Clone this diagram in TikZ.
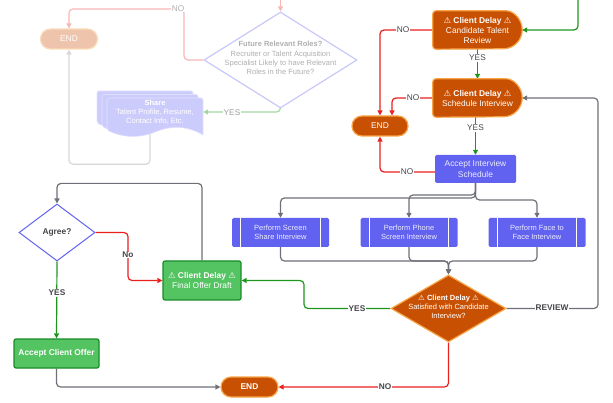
\documentclass[tikz,border=0pt]{standalone}
\usepackage{fontspec}
\setmainfont{Liberation Sans}
\newfontfamily\symfont{DejaVu Sans}
\newcommand{\wsg}{{\symfont ⚠}}
\usetikzlibrary{arrows.meta,shapes.geometric,backgrounds}
\definecolor{ofill}{RGB}{200,80,2}
\definecolor{oline}{RGB}{247,165,70}
\definecolor{bfill}{RGB}{98,98,240}
\definecolor{btext}{RGB}{236,236,255}
\definecolor{gfill}{RGB}{84,196,98}
\definecolor{gline}{RGB}{25,140,40}
\definecolor{redl}{RGB}{235,30,30}
\definecolor{grnl}{RGB}{30,150,30}
\definecolor{gryl}{RGB}{110,112,120}
\definecolor{lbl}{RGB}{70,70,75}
\definecolor{fpink}{RGB}{248,182,182}
\definecolor{flav}{RGB}{200,200,250}
\definecolor{flavfill}{RGB}{204,204,252}
\definecolor{fgreen}{RGB}{165,215,165}
\definecolor{fgray}{RGB}{215,215,215}
\definecolor{ftext}{RGB}{175,175,175}
\definecolor{fendfill}{RGB}{238,196,172}
\definecolor{fendline}{RGB}{250,218,185}
\pgfdeclarelayer{edges}
\pgfdeclarelayer{shapes}
\pgfsetlayers{edges,shapes,main}
\begin{document}
\begin{tikzpicture}[x=1pt,y=-1pt,
  font=\fontsize{8.4}{10}\selectfont,
  arr/.style={-{Triangle[length=5pt,width=5pt]}},
  conn/.style={line width=1.2pt, rounded corners=4pt, arr},
  lab/.style={fill=white, inner sep=0.6pt, text=lbl, font=\fontsize{8.3}{9}\selectfont},
  blab/.style={lab, font=\fontsize{8.3}{9}\selectfont\bfseries},
  flab/.style={lab, text=ftext},
  delaytxt/.style={minimum width=89pt, minimum height=38pt, inner sep=0pt, align=center, text=white},
  oshape/.style={fill=ofill, draw=oline, line width=1.2pt},
  endn/.style={fill=ofill, draw=oline, line width=1.2pt, rounded corners=10pt, minimum width=56pt, minimum height=20pt, inner sep=0pt, text=white},
  proc/.style={fill=bfill, rounded corners=1.5pt, minimum width=97pt, minimum height=29pt, inner sep=0pt, align=center, text=btext, font=\fontsize{7.5}{9}\selectfont},
  gbox/.style={fill=gfill, draw=gline, line width=1.2pt, rounded corners=2pt, inner sep=0pt, align=center, text=white},
  dia/.style={diamond, inner sep=0pt, line width=1.2pt}
]
\useasboundingbox (0,0) rectangle (613,403);

% ---------- faded part ----------
\node[endn, fill=fendfill, draw=fendline, minimum width=57pt] (fend) at (69,39) {END};
\node[dia, draw=flav, fill=white, minimum width=153pt, minimum height=96pt] (fdia) at (280.5,60) {};
\node[align=center, text=ftext, font=\fontsize{7.5}{9.3}\selectfont] (fdiat) at ([yshift=2pt]fdia.center) {\textbf{Future Relevant Roles?}\\Recruiter or Talent Acquisition\\Specialist Likely to have Relevant\\Roles in the Future?};
\node[minimum width=96pt, minimum height=28pt, inner sep=0pt, align=center, text=white, font=\fontsize{7.5}{9}\selectfont] (share) at (155,112) {\textbf{Share}\\Talent Profile, Resume,\\Contact Info, Etc.};
\begin{pgfonlayer}{shapes}
\foreach \dx/\dy in {-10/-7,-5/-3.5,0/0}{
  \draw[fill=flavfill, draw=white!40!flavfill, line width=0.6pt, shift={(\dx,\dy)}]
    (203,135) [rounded corners=2pt] -- (203,98) -- (107,98) -- (107,130) [sharp corners]
    .. controls (121,137) and (138,139) .. (155,132)
    .. controls (172,125) and (188,126) .. (203,135) -- cycle;
}
\end{pgfonlayer}
\coordinate (ftop) at (280.5,0);

% ---------- main nodes ----------
\node[delaytxt] (c1) at (477.5,30) {\textbf{\wsg\ Client Delay \wsg}\\Candidate Talent\\Review};
\node[delaytxt] (c2) at (477.5,98) {\textbf{\wsg\ Client Delay \wsg}\\Schedule Interview};
\begin{pgfonlayer}{shapes}
\foreach \n in {c1,c2}{
  \draw[oshape] ([xshift=-19pt]\n.north east) arc[start angle=90,end angle=-90,radius=19pt]
    [rounded corners=3pt] -- (\n.south west) -- (\n.north west) -- cycle;
}
\end{pgfonlayer}
\node[endn] (end1) at (380,126) {END};
\node[fill=bfill, rounded corners=1.5pt, minimum width=81pt, minimum height=28pt, inner sep=0pt, align=center, text=btext] (acc) at (475.5,169) {Accept Interview\\Schedule};
\node[proc] (p1) at (280.5,232.5) {Perform Screen\\Share Interview};
\node[proc] (p2) at (409,232.5) {Perform Phone\\Screen Interview};
\node[proc] (p3) at (537,232.5) {Perform Face to\\Face Interview};
\foreach \n in {p1,p2,p3}{
  \draw[white, line width=0.8pt] ([xshift=9pt]\n.north west) -- ([xshift=9pt]\n.south west);
  \draw[white, line width=0.8pt] ([xshift=-9pt]\n.north east) -- ([xshift=-9pt]\n.south east);
}
\node[dia, fill=ofill, draw=oline, minimum width=115pt, minimum height=67pt] (sat) at (448.5,308.5) {};
\node[align=center, text=white, font=\fontsize{7.5}{9}\selectfont] (satt) at ([yshift=1.5pt]sat.center) {\textbf{\wsg\ Client Delay \wsg}\\Satisfied with Candidate\\Interview?};
\node[gbox, minimum width=78pt, minimum height=39pt] (fin) at (202,280.5) {\textbf{\wsg\ Client Delay \wsg}\\Final Offer Draft};
\node[dia, draw=bfill, fill=white, line width=1pt, minimum width=76pt, minimum height=57pt] (agree) at (57,232.5) {};
\node[text=lbl, font=\fontsize{8.4}{10}\selectfont\bfseries] (agreet) at (agree.center) {Agree?};
\node[gbox, minimum width=85pt, minimum height=29pt, font=\fontsize{8.4}{10}\selectfont\bfseries] (aco) at (56.5,353.5) {Accept Client Offer};
\node[endn, font=\fontsize{8.4}{10}\selectfont\bfseries, minimum width=57pt] (end2) at (249.5,387) {END};
\coordinate (gtop) at (578,0);
\coordinate (mrg) at (448.5,261);

% ---------- connectors ----------
\begin{pgfonlayer}{edges}
\draw[conn, fpink] (ftop) -- (fdia.north);
\draw[conn, fpink] (fdia.west) -- (184,60) -- (184,9) -| (fend.north);
\draw[conn, fgreen] (fdia.south) |- (share.east);
\draw[conn, fgray] ([xshift=-5pt]share.south) -- ++(0,38) -| (fend.south);

\draw[conn, grnl] (gtop) |- (c1.east);
\draw[conn, redl] (c1.west) -| (end1.north);
\draw[conn, redl] (c2.west) -| ([xshift=12pt]end1.north);
\draw[conn, grnl] (c1.south) -- (c2.north);
\draw[conn, grnl] (acc.north |- c2.south) -- (acc.north);
\draw[conn, redl] ([yshift=-3pt]acc.west) -| (end1.south);

\draw[conn, gryl] (acc.south) -- (475.5,195) -| (p2.north);
\draw[conn, gryl] (acc.south) -- (475.5,198) -| (p1.north);
\draw[conn, gryl] (acc.south) -- (475.5,200) -| (p3.north);
\draw[conn, gryl] (p1.south) |- (mrg) -- (sat.north);
\draw[conn, gryl] (p2.south) |- (mrg) -- (sat.north);
\draw[conn, gryl] (p3.south) |- (mrg) -- (sat.north);

\draw[conn, grnl] (sat.west) -- (304,308.5) |- (fin.east);
\draw[conn, gryl] (sat.east) -- (598,308.5) |- (c2.east);
\draw[conn, redl] (sat.south) |- (end2.east);
\draw[conn, gryl] (fin.north) -- ++(0,-77) -| (agree.north);
\draw[conn, redl] (agree.east) -- (128,232.5) |- (fin.west);
\draw[conn, grnl] (agree.south) -- (aco.north);
\draw[conn, gryl] (aco.south) |- (end2.west);
\end{pgfonlayer}

% ---------- labels ----------
\node[flab] (l1) at (178,8.5) {NO};
\node[flab, text=ftext!90!black] (l2) at (232,113) {YES};
\node[lab] (l3) at (403,30) {NO};
\node[lab] (l4) at (413,97.5) {NO};
\node[lab] (l5) at (477.5,58) {YES};
\node[lab] (l6) at (475.5,128) {YES};
\node[lab] (l7) at (407,172) {NO};
\node[blab] (l8) at (357,308.5) {YES};
\node[blab] (l9) at (552,308) {REVIEW};
\node[blab] (l10) at (385,387) {NO};
\node[blab] (l11) at (128,255) {No};
\node[blab] (l12) at (57,293) {YES};
\end{tikzpicture}
\end{document}
